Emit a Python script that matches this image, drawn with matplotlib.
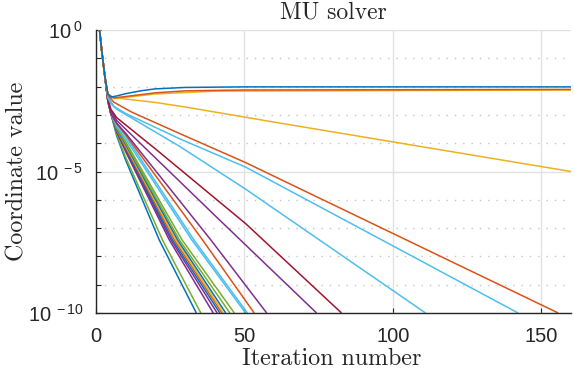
import numpy as np
import matplotlib
matplotlib.use('Agg')
import matplotlib.pyplot as plt
from matplotlib.ticker import FixedLocator, FuncFormatter, NullFormatter

# ---- data: iteration numbers and log10(coordinate value) ----
BLUE, ORANGE, YELLOW, PURPLE = '#0072BD', '#D95319', '#EDB120', '#7E2F8E'
GREEN, LBLUE, DRED = '#77AC30', '#4DBEEE', '#A2142F'

start_it = [1, 2, 3]
start_lg = [0.2, -0.8, -1.65]

plat_blue_it = [4, 5, 7, 10, 15, 20, 30, 50, 160]
plat_blue_lg = [-2.25, -2.37, -2.33, -2.25, -2.15, -2.08, -2.03, -2.01, -2.01]
plat_orange_it = [4, 6, 10, 20, 30, 50, 160]
plat_orange_lg = [-2.28, -2.4, -2.35, -2.22, -2.15, -2.12, -2.1]
plat_yellow_it = [4, 6, 10, 20, 40, 160]
plat_yellow_lg = [-2.28, -2.42, -2.38, -2.26, -2.16, -2.12]
decl_yellow_it = [4, 6, 10, 20, 30, 62, 160]
decl_yellow_lg = [-2.27, -2.4, -2.44, -2.56, -2.72, -3.29, -5.0]

orange_slow_it = [4, 6, 12, 28, 50.5, 155.7]
orange_slow_lg = [-2.3, -2.55, -2.9, -3.65, -4.69, -10]
lblue_142_it = [4, 6, 10, 28.3, 50.5, 100.6, 142.2]
lblue_142_lg = [-2.35, -2.7, -2.95, -3.85, -4.85, -7.66, -10]
lblue_111_it = [4, 5, 7, 28.3, 50.5, 111]
lblue_111_lg = [-2.4, -2.6, -2.8, -4.12, -5.63, -10]
dred_83_it = [4, 5, 7, 20, 50.5, 82.7]
dred_83_lg = [-2.45, -2.8, -3.1, -4.2, -6.85, -10]
purple_74_it = [4, 5, 7, 40, 74.3]
purple_74_lg = [-2.45, -2.85, -3.2, -6.55, -10]
purple_58_it = [4, 5, 7, 10, 38.7, 57.5]
purple_58_lg = [-2.5, -2.95, -3.3, -3.65, -7.42, -10]
orange_53_it = [4, 5, 7, 10, 35.9, 53.3]
orange_53_lg = [-2.5, -2.95, -3.3, -3.7, -7.42, -10]
lblue_51_it = [4, 5, 7, 10, 33.0, 51.0]
lblue_51_lg = [-2.5, -2.95, -3.35, -3.75, -7.42, -10]
lblue_50_it = [4, 5, 7, 10, 32.3, 50.4]
lblue_50_lg = [-2.5, -2.95, -3.4, -3.85, -7.42, -10]
green_47_it = [4, 5, 7, 10, 29.0, 46.6]
green_47_lg = [-2.5, -2.95, -3.45, -3.95, -7.42, -10]
green_45_it = [4, 5, 7, 10, 28.1, 45.1]
green_45_lg = [-2.5, -2.95, -3.45, -4.0, -7.42, -10]
blue_44_it = [4, 5, 7, 10, 27.5, 43.7]
blue_44_lg = [-2.5, -2.95, -3.5, -4.05, -7.42, -10]
yellow_43_it = [4, 5, 7, 10, 26.9, 42.9]
yellow_43_lg = [-2.5, -2.95, -3.5, -4.1, -7.42, -10]
orange_42_it = [4, 5, 7, 10, 26.4, 42.4]
orange_42_lg = [-2.5, -2.95, -3.55, -4.15, -7.42, -10]
blue_42_it = [4, 5, 7, 10, 25.8, 41.7]
blue_42_lg = [-2.5, -2.95, -3.55, -4.2, -7.42, -10]
purple_41_it = [4, 5, 7, 10, 25.3, 40.8]
purple_41_lg = [-2.5, -2.95, -3.6, -4.25, -7.42, -10]
purple_40_it = [4, 5, 7, 10, 24.7, 39.5]
purple_40_lg = [-2.5, -2.95, -3.6, -4.3, -7.42, -10]
green_35_it = [4, 5, 7, 10, 22.4, 35.3]
green_35_lg = [-2.5, -2.95, -3.7, -4.5, -7.42, -10]
blue_34_it = [4, 5, 7, 10, 21.3, 33.8]
blue_34_lg = [-2.5, -2.95, -3.75, -4.6, -7.42, -10]

series = [
    (blue_34_it, blue_34_lg, BLUE), (green_35_it, green_35_lg, GREEN),
    (purple_40_it, purple_40_lg, PURPLE), (purple_41_it, purple_41_lg, PURPLE),
    (blue_42_it, blue_42_lg, BLUE), (orange_42_it, orange_42_lg, ORANGE),
    (yellow_43_it, yellow_43_lg, YELLOW), (blue_44_it, blue_44_lg, BLUE),
    (green_45_it, green_45_lg, GREEN), (green_47_it, green_47_lg, GREEN),
    (lblue_50_it, lblue_50_lg, LBLUE), (lblue_51_it, lblue_51_lg, LBLUE),
    (orange_53_it, orange_53_lg, ORANGE), (purple_58_it, purple_58_lg, PURPLE),
    (purple_74_it, purple_74_lg, PURPLE), (dred_83_it, dred_83_lg, DRED),
    (lblue_111_it, lblue_111_lg, LBLUE), (lblue_142_it, lblue_142_lg, LBLUE),
    (orange_slow_it, orange_slow_lg, ORANGE), (decl_yellow_it, decl_yellow_lg, YELLOW),
    (plat_yellow_it, plat_yellow_lg, YELLOW), (plat_orange_it, plat_orange_lg, ORANGE),
    (plat_blue_it, plat_blue_lg, BLUE),
]

xticks = [0, 50, 100, 150]
ylabel_exps = [0, -5, -10]

# ---- style ----
plt.rcParams['mathtext.fontset'] = 'custom'
plt.rcParams['mathtext.rm'] = 'Liberation Sans'
plt.rcParams['mathtext.it'] = 'Liberation Sans:italic'
plt.rcParams['mathtext.bf'] = 'Liberation Sans:bold'
plt.rcParams['font.family'] = ['Liberation Sans', 'DejaVu Sans']

fig = plt.figure(figsize=(5.74, 3.69), dpi=100)
ax = fig.add_axes([96/574, 1-313/369, 475/574, 283/369])

for its, lgs, col in series:
    x = np.array(start_it + list(its), dtype=float)
    y = 10.0 ** np.array(start_lg + list(lgs), dtype=float)
    ax.plot(x, y, color=col, lw=1.1, solid_capstyle='butt', solid_joinstyle='round')

ax.set_yscale('log')
ax.set_xlim(0, 160)
ax.set_ylim(1e-10, 1e0)

ax.xaxis.set_major_locator(FixedLocator(xticks))
ax.yaxis.set_major_locator(FixedLocator([10.0**e for e in ylabel_exps]))
ax.yaxis.set_minor_locator(FixedLocator([10.0**e for e in range(-10, 1)]))
ax.yaxis.set_minor_formatter(NullFormatter())
ax.yaxis.set_major_formatter(FuncFormatter(
    lambda v, p: r'$\mathregular{10^{\;%d}}$' % int(round(np.log10(v)))))

ax.grid(True, which='major', axis='both', color='#e2e2e2', lw=1.0, ls='-')
ax.grid(True, which='minor', axis='y', color='#c4c4c4', lw=1.0, ls=(0, (1, 5)))
ax.set_axisbelow(True)

for s in ['top', 'right']:
    ax.spines[s].set_visible(False)
for s in ['left', 'bottom']:
    ax.spines[s].set_color('#262626')
    ax.spines[s].set_linewidth(1.0)

ax.tick_params(which='both', direction='in', length=3.5, width=0.8, color='#262626',
               labelsize=14.5, labelcolor='#262626')
ax.tick_params(axis='x', pad=10)
ax.tick_params(axis='y', pad=9)

serif = 'cmr10'
ax.set_title('MU solver', fontfamily=serif, fontsize=17, pad=8.5, color='#262626')
ax.set_xlabel('Iteration number', fontfamily=serif, fontsize=17.3, color='#262626')
ax.set_ylabel('Coordinate value', fontfamily=serif, fontsize=17.3, color='#262626')
ax.xaxis.set_label_coords(0.496, -0.182)
ax.xaxis.label.set_va('baseline')
ax.yaxis.set_label_coords(-0.143, 0.5)

fig.savefig('out.png', dpi=100)
